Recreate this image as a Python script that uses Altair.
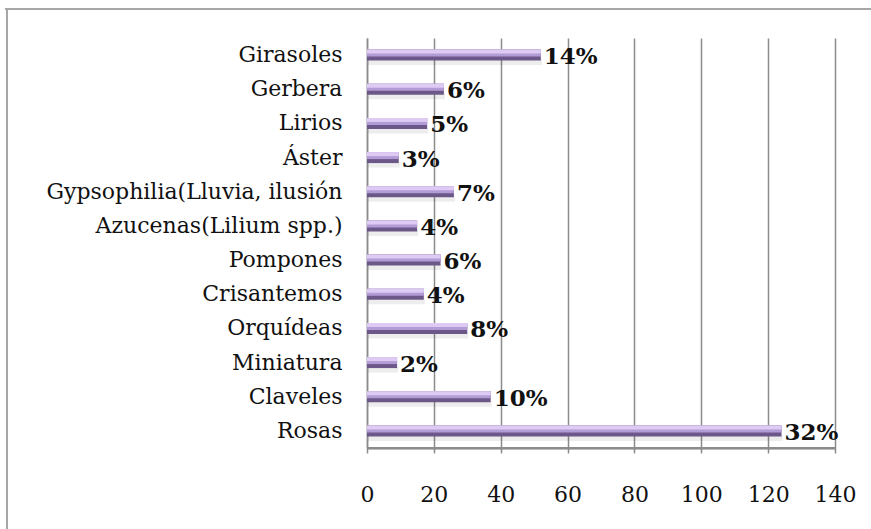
import altair as alt
import pandas as pd

# Flower types, top to bottom as they appear on the chart
categories = [
    "Girasoles", "Gerbera", "Lirios", "Áster", "Gypsophilia(Lluvia, ilusión",
    "Azucenas(Lilium spp.)", "Pompones", "Crisantemos", "Orquídeas",
    "Miniatura", "Claveles", "Rosas",
]
counts = [52, 23, 18, 9.5, 26, 15, 22, 17, 30, 9, 37, 124]
percent_labels = ["14%", "6%", "5%", "3%", "7%", "4%", "6%", "4%", "8%", "2%", "10%", "32%"]
x_ticks = [0, 20, 40, 60, 80, 100, 120, 140]

df = pd.DataFrame({"flor": categories, "valor": counts, "pct": percent_labels})

serif = "DejaVu Serif"
grid_gray = "#8c8c8c"

x_enc = alt.X(
    "valor:Q",
    scale=alt.Scale(domain=[0, 140], nice=False),
    axis=alt.Axis(
        values=x_ticks, title=None, grid=True, gridColor=grid_gray, gridWidth=1.5,
        domain=True, domainColor="#7a7a7a", domainWidth=2, tickColor=grid_gray,
        tickSize=5, tickWidth=1.5, labelFont=serif, labelFontSize=22,
        labelColor="#111", labelPadding=31, labelFlush=False,
    ),
)
y_enc = alt.Y(
    "flor:N",
    sort=None,
    scale=alt.Scale(paddingInner=0, paddingOuter=0),
    axis=alt.Axis(
        title=None, ticks=False, domainColor=grid_gray, domainWidth=1.5,
        labelFont=serif, labelFontSize=22, labelColor="#111", labelPadding=25,
        labelLimit=400,
    ),
)

base = alt.Chart(df).encode(x=x_enc, y=y_enc)

# Bars drawn in bands to give the bevelled, shaded look
shadow = base.mark_bar(size=6, yOffset=7, xOffset=1, color="#000000", opacity=0.07)
dark = base.mark_bar(size=11, color="#6c5888")
mid = base.mark_bar(size=7, yOffset=-2, color="#b39bd6")
light = base.mark_bar(size=4, yOffset=-3.5, color="#decbf4")

labels = base.mark_text(
    align="left", baseline="middle", dx=3, dy=2,
    font=serif, fontSize=23, fontWeight="bold", color="#111",
).encode(text="pct:N")

# Baseline along the bottom of the plot area
baseline = alt.Chart(df).mark_rule(color="#8c8c8c", strokeWidth=1.5).encode(
    x=alt.value(0), x2=alt.value(468), y=alt.value(410)
)

# Outer frame lines around the chart area
frame_left = alt.Chart(df).mark_rule(color="#a6a6a6", strokeWidth=2).encode(
    x=alt.value(-360), y=alt.value(-29), y2=alt.value(495)
)
frame_top = alt.Chart(df).mark_rule(color="#a6a6a6", strokeWidth=2).encode(
    x=alt.value(-362), x2=alt.value(510), y=alt.value(-29)
)

chart = (
    alt.layer(shadow, dark, mid, light, labels, baseline, frame_left, frame_top)
    .properties(
        width=468,
        height=410,
        autosize=alt.AutoSizeParams(type="none"),
        padding={"left": 367, "top": 38, "right": 36, "bottom": 81},
        background="white",
    )
    .configure_view(stroke=None)
)

chart.save("out.html", embed_options={"renderer": "svg", "actions": False})
